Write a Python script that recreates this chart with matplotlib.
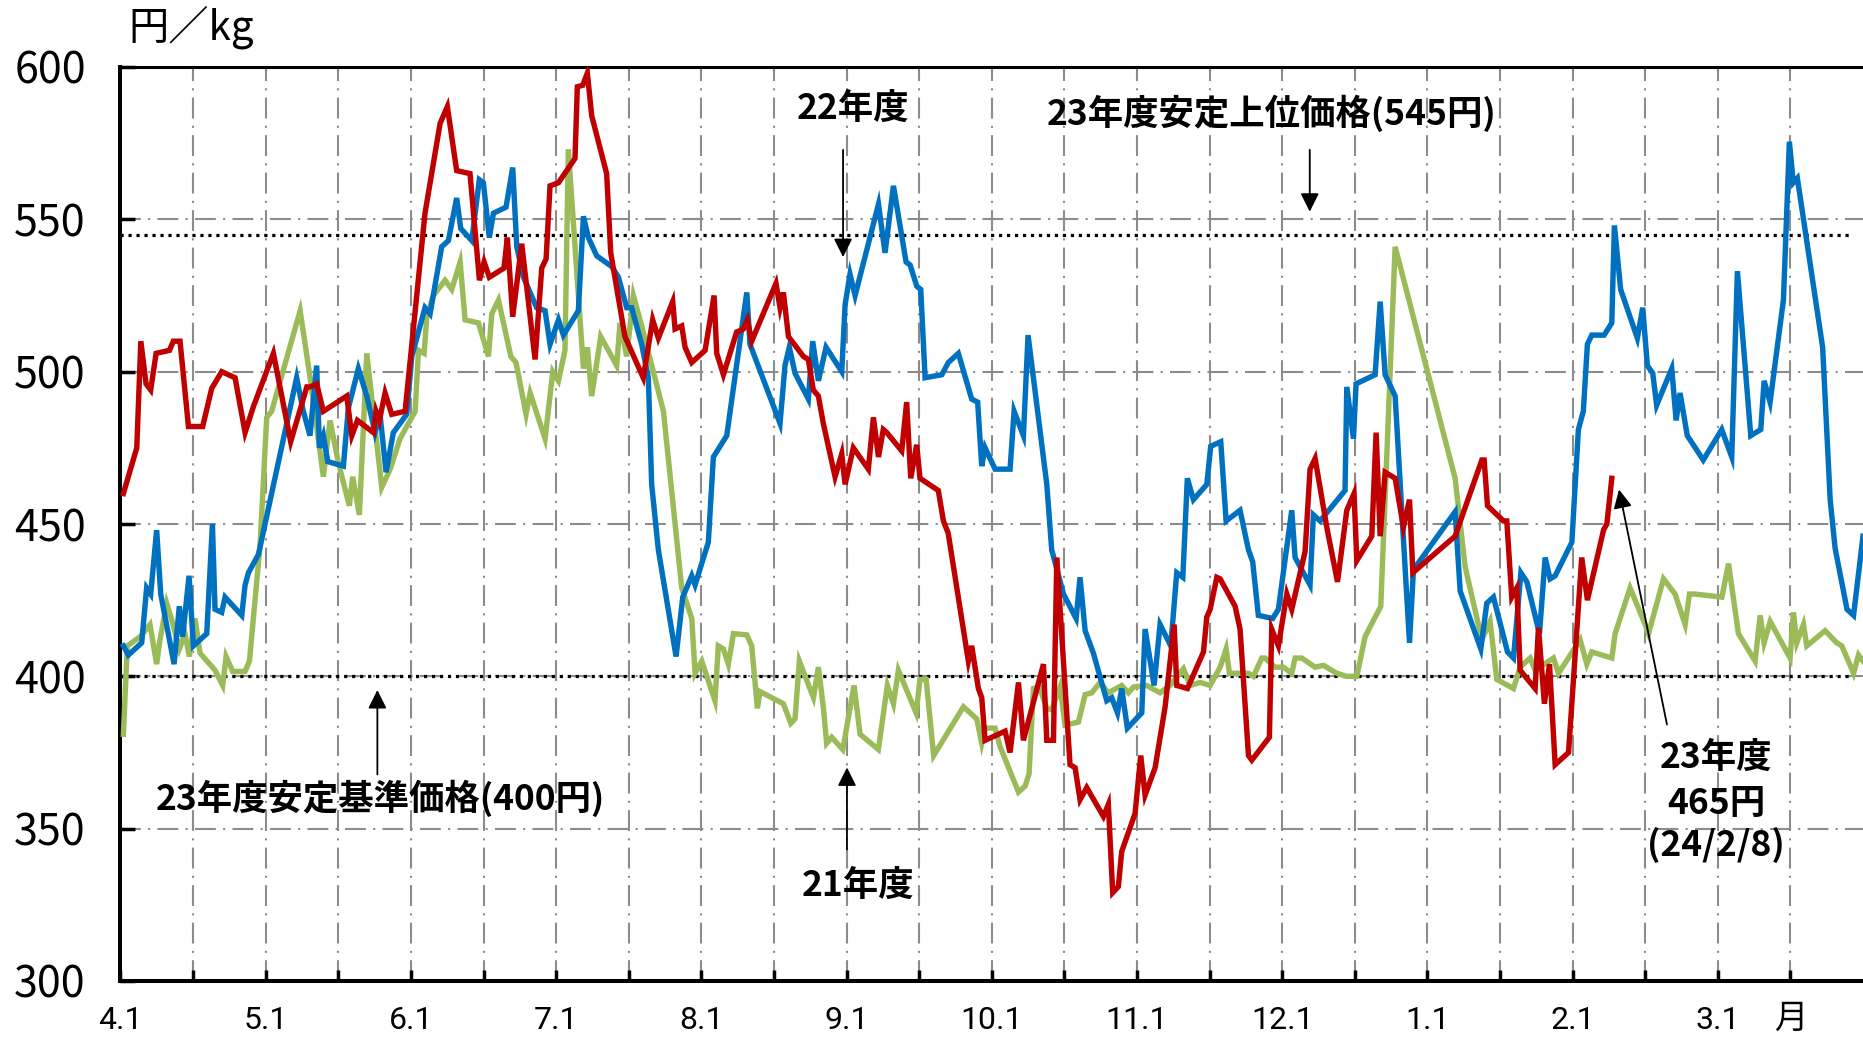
import numpy as np
import matplotlib
matplotlib.use("Agg")
import matplotlib.pyplot as plt

plt.rcParams['font.family'] = ['Noto Sans CJK JP', 'DejaVu Sans']

# ---------------- data (x = months elapsed since 4/1, y = 円/kg) ----------------
month_labels = ["4.1", "5.1", "6.1", "7.1", "8.1", "9.1", "10.1", "11.1", "12.1", "1.1", "2.1", "3.1"]
yticks = [300, 350, 400, 450, 500, 550, 600]

upper_price = 545   # 23年度安定上位価格
base_price = 400    # 23年度安定基準価格

# 23年度 (red)
fy23 = [(0.02,460),(0.112,475),(0.14,510),(0.176,496),(0.208,494),(0.245,506),(0.337,507),(0.364,510),
        (0.41,510),(0.468,482),(0.566,482),(0.628,494.5),(0.697,500),(0.789,498),(0.858,480),(0.915,488.5),
        (1.053,506),(1.172,477),(1.283,495),(1.306,495),(1.351,496),(1.397,487),(1.558,492),(1.593,479),
        (1.632,484),(1.742,480),(1.76,487),(1.783,484),(1.822,493),(1.868,486),(1.96,487),(2.097,552),
        (2.201,581.5),(2.251,587),(2.315,566),(2.407,565),(2.472,530),(2.504,536),(2.54,531),(2.641,534),
        (2.664,544),(2.701,518),(2.763,542),(2.855,504),(2.901,534),(2.931,537),(2.958,561),(3.016,562),
        (3.13,570),(3.146,593.5),(3.183,594),(3.215,598),(3.245,584),(3.348,565),(3.376,539),(3.474,511.5),
        (3.60,498),(3.665,517),(3.704,511),(3.803,523),(3.819,514),(3.865,515),(3.888,508),(3.934,503),
        (4.026,507),(4.088,525),(4.106,506),(4.152,499),(4.243,513),(4.289,514),(4.317,517),(4.347,510),
        (4.514,529),(4.542,521),(4.565,526),(4.60,511.5),(4.703,505),(4.737,504),(4.771,494),(4.806,492),
        (4.84,483),(4.921,465.5),(4.967,473),(4.99,463),(5.047,475),(5.15,468),(5.185,485),(5.22,472),
        (5.253,481),(5.277,480),(5.38,474),(5.414,490),(5.442,465),(5.483,476),(5.506,465),(5.632,461),
        (5.667,451),(5.70,447),(5.839,405),(5.862,410),(5.908,396),(5.931,393),(5.954,379),(6.092,382),
        (6.126,375),(6.184,398),(6.218,379),(6.356,404),(6.379,379),(6.425,379),(6.448,439),(6.539,371),
        (6.574,370),(6.608,359.5),(6.654,363.5),(6.769,354),(6.803,358),(6.833,329),(6.872,331),(6.895,342.5),
        (6.987,355),(7.026,374),(7.056,361),(7.125,370),(7.194,390),(7.256,417),(7.274,397),(7.348,396),
        (7.458,408),(7.481,419.5),(7.504,422),(7.55,432.5),(7.573,432),(7.676,423),(7.71,415.5),(7.768,374),
        (7.791,372.5),(7.912,380),(7.928,415.5),(7.974,410),(8.032,427),(8.066,422),(8.158,441),(8.192,468),
        (8.227,471.5),(8.307,449),(8.381,431),(8.445,454.5),(8.495,460),(8.514,438),(8.617,446),(8.647,480),
        (8.675,446),(8.709,467),(8.778,465),(8.835,449),(8.877,458),(8.9,434),(9.191,446),(9.375,471),
        (9.391,471),(9.414,456),(9.524,451),(9.547,451),(9.581,426),(9.616,429),(9.639,402),(9.742,396),
        (9.765,416),(9.806,391),(9.841,404),(9.88,371),(9.972,375),(10.063,439),(10.102,425),(10.213,448),
        (10.236,450),(10.27,465)]

# 22年度 (blue)
fy22 = [(0.02,410),(0.054,407),(0.146,411),(0.18,429),(0.208,427),(0.249,448),(0.277,427),(0.369,404),
        (0.405,423),(0.428,413),(0.472,433),(0.502,410),(0.594,414),(0.633,450),(0.651,422),(0.697,421),
        (0.72,426),(0.835,420),(0.858,430),(0.881,434),(0.95,440),(1.213,498),(1.259,487),(1.305,479),
        (1.351,502),(1.37,475),(1.397,479),(1.427,470.5),(1.535,469),(1.569,488),(1.638,501),(1.696,492),
        (1.753,480),(1.787,486),(1.829,467),(1.879,480),(1.971,486),(2.006,505),(2.097,521),(2.132,519),
        (2.212,541),(2.258,543),(2.315,557),(2.343,547),(2.419,543),(2.471,563),(2.499,562),(2.54,544),
        (2.568,552),(2.655,554),(2.701,567),(2.729,541),(2.775,531),(2.866,521),(2.924,520),(2.958,509),
        (3.016,517),(3.05,512),(3.153,520),(3.188,551),(3.222,544),(3.28,538),(3.383,534.5),(3.429,531),
        (3.486,521),(3.52,521),(3.589,509),(3.635,498),(3.658,463),(3.704,441.5),(3.826,406.5),(3.872,426),
        (3.934,433),(3.957,430),(4.048,444),(4.083,472),(4.175,479),(4.313,526),(4.335,509),(4.542,483),
        (4.576,502),(4.606,508),(4.645,499.5),(4.737,491),(4.767,510),(4.806,497),(4.859,508),(4.967,500),
        (4.99,522),(5.024,532),(5.059,525),(5.22,555),(5.265,539),(5.323,561),(5.41,536),(5.438,535),
        (5.484,528),(5.511,527),(5.541,498),(5.656,499),(5.701,503),(5.77,506),(5.862,491),(5.903,490),
        (5.931,469),(5.954,475),(6.023,468),(6.126,468),(6.154,487),(6.218,479),(6.25,512),(6.379,463),
        (6.413,441.5),(6.494,427),(6.581,419),(6.608,432.5),(6.643,415),(6.7,407.6),(6.792,392),(6.826,393),
        (6.866,388),(6.895,396),(6.934,383),(7.033,388),(7.056,415.5),(7.118,397),(7.159,417),(7.233,410),
        (7.274,434),(7.316,432.5),(7.347,465),(7.389,458),(7.481,463),(7.508,475.5),(7.577,477),(7.614,451),
        (7.71,454.5),(7.768,441.5),(7.797,437.6),(7.836,420),(7.935,419),(7.974,422),(8.066,454.5),(8.089,439),
        (8.192,430),(8.215,453),(8.261,451),(8.433,461),(8.445,495),(8.491,478),(8.509,496),(8.64,499),
        (8.675,523),(8.709,499),(8.778,492),(8.824,454),(8.877,411),(8.904,435),(9.191,454),(9.226,428),
        (9.368,409),(9.409,424),(9.455,426),(9.552,408),(9.593,406),(9.644,434),(9.685,431),(9.772,414),
        (9.811,439),(9.845,432),(9.88,433),(9.995,444),(10.04,481),(10.074,487),(10.102,509),(10.132,512),
        (10.217,512),(10.27,516),(10.288,548),(10.331,527),(10.446,511),(10.483,521),(10.515,502),(10.552,499.5),
        (10.579,489),(10.683,501),(10.713,484),(10.74,493),(10.79,479),(10.9,471),(11.027,481),(11.096,472),
        (11.135,533),(11.227,479),(11.296,481),(11.319,497),(11.36,490),(11.452,523.5),(11.493,575.5),
        (11.52,562),(11.548,563.5),(11.722,508),(11.774,458),(11.808,442),(11.89,422),(11.935,420),(12.0,446)]

# 21年度 (green)
fy21 = [(0.02,381),(0.047,410),(0.135,413),(0.203,417),(0.249,404),(0.272,412),(0.318,424),(0.353,418.5),
        (0.405,409),(0.444,414),(0.474,406.5),(0.513,419),(0.548,407.6),(0.651,402),(0.704,397),(0.727,406.5),
        (0.773,401.6),(0.858,401.6),(0.888,405),(0.961,443),(1.007,485),(1.041,487),(1.237,520),(1.306,498),
        (1.397,465.5),(1.443,484),(1.501,470),(1.576,456),(1.599,465.5),(1.645,453),(1.696,506),(1.799,462),
        (1.857,468),(1.925,478),(2.029,487),(2.052,507),(2.091,506),(2.109,518),(2.155,525),(2.235,530),
        (2.281,527),(2.339,536),(2.373,517),(2.465,516),(2.534,505),(2.557,519),(2.603,523.5),(2.688,505),
        (2.724,503),(2.793,486),(2.821,493),(2.924,478),(2.977,500),(3.016,497),(3.061,507),(3.084,573),
        (3.188,501),(3.215,508),(3.245,492),(3.307,511.5),(3.417,502),(3.44,516),(3.486,505),(3.532,525),
        (3.589,515),(3.739,487),(3.865,429),(3.934,419),(3.957,401),(4.003,405),(4.094,392),(4.117,410),
        (4.152,409),(4.186,404),(4.221,414),(4.313,413.6),(4.347,410),(4.386,389.5),(4.404,395),(4.565,391),
        (4.616,384.6),(4.645,386),(4.675,405),(4.772,393),(4.806,403),(4.84,390),(4.863,378),(4.898,380),
        (4.974,376),(5.052,397),(5.093,381),(5.219,376),(5.281,397),(5.323,391),(5.357,402),(5.479,388),
        (5.506,399),(5.548,399),(5.60,374),(5.805,390),(5.897,386),(5.931,378),(5.954,383),(6.023,383),
        (6.057,377),(6.184,362),(6.23,364),(6.257,368),(6.287,396),(6.328,396.5),(6.379,389.5),(6.413,389),
        (6.471,396.5),(6.505,384),(6.597,385),(6.643,394),(6.689,394.6),(6.746,398),(6.803,394.6),(6.895,397),
        (6.941,394.6),(6.976,396.5),(7.067,397),(7.159,394.6),(7.228,397),(7.32,402.5),(7.366,397),(7.435,398),
        (7.504,397),(7.573,403),(7.614,409),(7.637,401),(7.768,401),(7.802,400),(7.86,406),(7.882,406),
        (7.951,403),(8.009,403),(8.066,401),(8.089,406),(8.135,406),(8.227,403),(8.284,403.6),(8.376,401),
        (8.445,400),(8.514,400),(8.571,413),(8.679,423),(8.778,541),(9.191,465),(9.26,436),(9.375,412),
        (9.432,418),(9.478,399),(9.593,396),(9.639,403),(9.708,406),(9.742,402),(9.868,406),(9.903,401),
        (10.052,412),(10.098,404),(10.132,408),(10.27,406),(10.293,414),(10.396,429),(10.5,417),(10.523,414),
        (10.626,432),(10.706,427),(10.775,417),(10.805,427),(10.844,427),(11.028,426),(11.074,437),(11.142,414),
        (11.257,405),(11.292,420),(11.319,411),(11.361,418),(11.498,406),(11.521,421),(11.544,411),(11.59,417),
        (11.613,410),(11.739,415),(11.819,411),(11.854,410),(11.935,401),(11.969,407),(12.0,405)]

# ---------------- figure ----------------
W, H = 1863, 1040
fig = plt.figure(figsize=(W / 100, H / 100), dpi=100)
ax = fig.add_axes([120.5 / W, 1 - 981 / H, 1 - 120.5 / W, (981 - 67) / H])

ax.set_xlim(0, 12)
ax.set_ylim(300, 600)

grid_style = (0, (10, 3.5, 1, 3.5))
ax.set_axisbelow(True)
ax.grid(True, color='#8c8c8c', linewidth=1.5, linestyle=grid_style)

for s in ('left', 'bottom'):
    ax.spines[s].set_linewidth(2.9)
ax.spines['top'].set_linewidth(2.2)
ax.spines['right'].set_visible(False)

xt = np.arange(0, 12, 0.5)
ax.set_xticks(xt)
ax.set_xticklabels([month_labels[int(v)] if float(v).is_integer() else '' for v in xt],
                   fontfamily=['Liberation Sans Narrow', 'Roboto', 'DejaVu Sans'], fontsize=23)
ax.set_yticks(yticks)
ax.set_yticklabels([str(v) for v in yticks], fontfamily=['Noto Sans CJK JP'], fontsize=31)
ax.tick_params(axis='x', direction='in', length=8, width=2.5, pad=18)
ax.tick_params(axis='y', direction='in', length=11, width=2.5, pad=25)

# threshold lines
ax.plot([0, 11.91], [upper_price, upper_price], color='black', lw=2.3,
        linestyle=(0, (1, 1.5)), zorder=2)
ax.plot([0, 11.91], [base_price, base_price], color='black', lw=2.3,
        linestyle=(0, (1, 1.5)), zorder=2)

# series
for pts, col, z in ((fy21, '#9BBB59', 3), (fy22, '#0070C0', 4), (fy23, '#C00000', 5)):
    xs, ys = zip(*pts)
    ax.plot(xs, ys, color=col, lw=3.9, solid_joinstyle='miter', zorder=z)

# annotations
bold = dict(fontfamily=['Noto Sans CJK JP'], fontweight='bold', fontsize=25.5, color='black')
arrow = dict(arrowstyle='-|>', color='black', lw=1.3, mutation_scale=28, shrinkA=0, shrinkB=0)

ax.text(5.045, 586.5, '22年度', ha='center', va='center', **bold)
ax.annotate('', xy=(4.976, 537.6), xytext=(4.976, 572.8), arrowprops=arrow)

ax.text(7.93, 584.9, '23年度安定上位価格(545円)', ha='center', va='center', **bold)
ax.annotate('', xy=(8.19, 552.5), xytext=(8.19, 572.8), arrowprops=arrow)

ax.text(1.79, 360, '23年度安定基準価格(400円)', ha='center', va='center', **bold)
ax.annotate('', xy=(1.769, 395.5), xytext=(1.769, 367.8), arrowprops=arrow)

ax.text(5.077, 331.5, '21年度', ha='center', va='center', **bold)
ax.annotate('', xy=(5.003, 370.1), xytext=(5.003, 343.2), arrowprops=arrow)

ax.text(10.99, 373.3, '23年度', ha='center', va='center', **bold)
ax.text(10.99, 358.2, '465円', ha='center', va='center', **bold)
ax.text(10.99, 344.5, '(24/2/8)', ha='center', va='center', **bold)
ax.annotate('', xy=(10.32, 461.3), xytext=(10.65, 384.2), arrowprops=arrow)

# axis unit labels
fig.text(128 / W, 1 - 27 / H, '円／kg', ha='left', va='center', fontsize=29,
         fontfamily=['Noto Sans CJK JP'])
ax.text(11.5, -0.041, '月', transform=ax.get_xaxis_transform(), ha='center', va='center',
        fontsize=24, fontfamily=['Noto Sans CJK JP'])

fig.savefig('out.png', dpi=100)
